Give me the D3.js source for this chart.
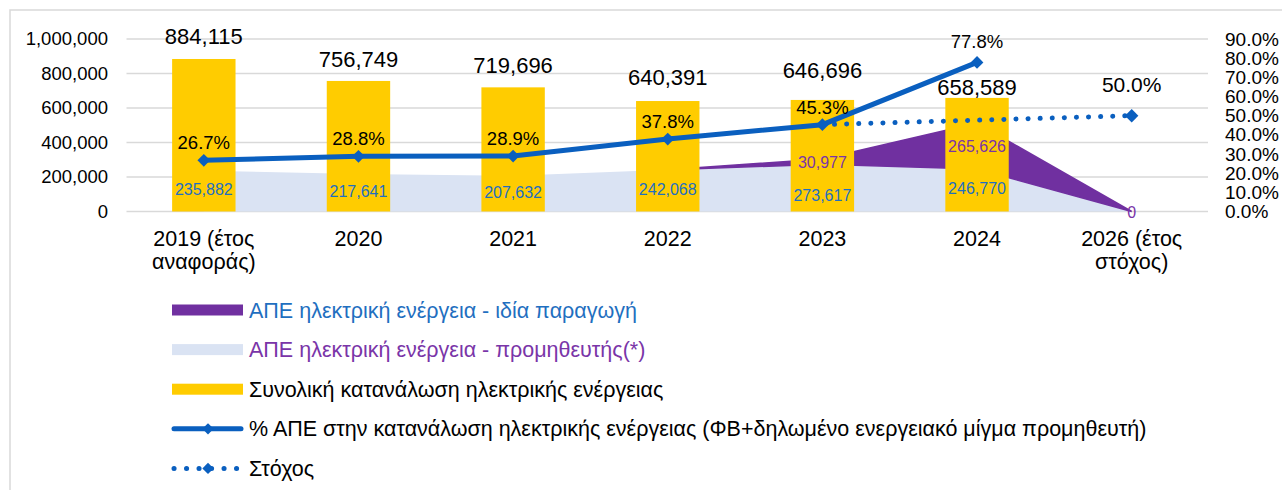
<!DOCTYPE html>
<html>
<head>
<meta charset="utf-8">
<script src="https://cdn.jsdelivr.net/npm/d3@7"></script>
<style>
  body { margin: 0; background: #fff; }
  svg { font-family: "Liberation Sans", Arial, sans-serif; display: block; }
</style>
</head>
<body>
<svg id="chart" width="1282" height="490"></svg>
<script>
// categories (second line of label after the break)
const categories = [["2019 (έτος", "αναφοράς)"], ["2020"], ["2021"], ["2022"], ["2023"], ["2024"], ["2026 (έτος", "στόχος)"]]
// total consumption (bars)
const totalConsumption = [884115, 756749, 719696, 640391, 646696, 658589, null]
// RES from supplier (light area)
const resSupplier = [235882, 217641, 207632, 242068, 273617, 246770, 0]
// RES own production (purple area, stacked on supplier)
const resOwn = [null, null, null, 0, 30977, 265626, 0]
// % RES in consumption
const resPercent = [26.7, 28.8, 28.9, 37.8, 45.3, 77.8, null]
// target
const targetPercent = [null, null, null, null, 45.3, null, 50.0]
const leftTicks = [0, 200000, 400000, 600000, 800000, 1000000]
const rightTicks = [0, 10, 20, 30, 40, 50, 60, 70, 80, 90]

const legendItems = [
  {label: "ΑΠΕ ηλεκτρική ενέργεια - ιδία παραγωγή", type: "rect", fill: "#7030a0", text: "#1f6fc0"},
  {label: "ΑΠΕ ηλεκτρική ενέργεια - προμηθευτής(*)", type: "rect", fill: "#dae3f3", text: "#7a35a8"},
  {label: "Συνολική κατανάλωση ηλεκτρικής ενέργειας", type: "rect", fill: "#ffcc00", text: "#000"},
  {label: "% ΑΠΕ στην κατανάλωση ηλεκτρικής ενέργειας (ΦΒ+δηλωμένο ενεργειακό μίγμα προμηθευτή)", type: "line", text: "#000"},
  {label: "Στόχος", type: "dots", text: "#000"}
]

const blue = "#0a5fbf"
const svg = d3.select("#chart")

// frame
svg.append("rect").attr("x", 10).attr("y", 10).attr("width", 1290).attr("height", 500)
  .attr("fill", "none").attr("stroke", "#d9d9d9").attr("stroke-width", 1.5)

const idx = d3.range(categories.length)
const x = d3.scalePoint().domain(idx).range([126.5, 1209]).padding(0.5)
const yL = d3.scaleLinear().domain([0, 1000000]).range([211.5, 39])
const yR = d3.scaleLinear().domain([0, 90]).range([211.5, 39])
const barW = x.step() * 0.41

// gridlines
svg.append("g").selectAll("line").data(leftTicks).join("line")
  .attr("x1", 126.5).attr("x2", 1208)
  .attr("y1", d => yL(d)).attr("y2", d => yL(d))
  .attr("stroke", "#d9d9d9").attr("stroke-width", 1.5)

// left axis
const axL = svg.append("g").attr("transform", "translate(118,0)")
  .call(d3.axisLeft(yL).tickValues(leftTicks).tickSize(0).tickPadding(10).tickFormat(d3.format(",")))
axL.select(".domain").remove()
axL.selectAll("text").attr("font-size", 18.5).attr("fill", "#000").attr("font-family", null)

// right axis
const axR = svg.append("g").attr("transform", "translate(1215,0)")
  .call(d3.axisRight(yR).tickValues(rightTicks).tickSize(0).tickPadding(10).tickFormat(d => d.toFixed(1) + "%"))
axR.select(".domain").remove()
axR.selectAll("text").attr("font-size", 19).attr("fill", "#000").attr("font-family", null)

// areas
const areaSup = d3.area().x(i => x(i)).y0(yL(0)).y1(i => yL(resSupplier[i]))
svg.append("path").datum(idx).attr("d", areaSup).attr("fill", "#dae3f3")

const ownIdx = idx.filter(i => resOwn[i] != null)
const areaOwn = d3.area().x(i => x(i))
  .y0(i => yL(resSupplier[i])).y1(i => yL(resSupplier[i] + resOwn[i]))
svg.append("path").datum(ownIdx).attr("d", areaOwn).attr("fill", "#7030a0")
  .attr("stroke", "#7030a0").attr("stroke-width", 1.5)

// bars
const barIdx = idx.filter(i => totalConsumption[i] != null)
svg.append("g").selectAll("rect").data(barIdx).join("rect")
  .attr("x", i => x(i) - barW / 2).attr("width", barW)
  .attr("y", i => yL(totalConsumption[i])).attr("height", i => yL(0) - yL(totalConsumption[i]))
  .attr("fill", "#ffcc00")

// bar labels (gap above bar top, nudged like excel did to dodge the line)
const barGap = [15, 14, 14, 16, 22, 3]
svg.append("g").selectAll("text").data(barIdx).join("text")
  .attr("x", i => x(i)).attr("y", i => yL(totalConsumption[i]) - barGap[i])
  .attr("text-anchor", "middle").attr("font-size", 22).attr("fill", "#000")
  .text(i => d3.format(",")(totalConsumption[i]))

// area labels
svg.append("g").selectAll("text").data(barIdx).join("text")
  .attr("x", i => x(i)).attr("y", i => yL(resSupplier[i] / 2) + (i === 4 ? 13 : 4))
  .attr("text-anchor", "middle").attr("font-size", 16).attr("fill", "#1f6fc0")
  .text(i => d3.format(",")(resSupplier[i]))

svg.append("g").selectAll("text").data(ownIdx.filter(i => resOwn[i] > 0 || i === 6)).join("text")
  .attr("x", i => x(i)).attr("y", i => yL(resSupplier[i] + resOwn[i] / 2) + 6)
  .attr("text-anchor", "middle").attr("font-size", 16).attr("fill", "#7a35a8")
  .text(i => d3.format(",")(resOwn[i]))

// diamond marker
const diamond = (g, cx, cy, s) => g.append("rect")
  .attr("x", -s / 2).attr("y", -s / 2).attr("width", s).attr("height", s)
  .attr("transform", `translate(${cx},${cy}) rotate(45)`).attr("fill", blue)

// target dotted line
const tIdx = idx.filter(i => targetPercent[i] != null)
svg.append("path").datum(tIdx)
  .attr("d", d3.line().x(i => x(i)).y(i => yR(targetPercent[i])))
  .attr("fill", "none").attr("stroke", blue).attr("stroke-width", 5)
  .attr("stroke-linecap", "round").attr("stroke-dasharray", "0.1 12")

// % line
const pIdx = idx.filter(i => resPercent[i] != null)
svg.append("path").datum(pIdx)
  .attr("d", d3.line().x(i => x(i)).y(i => yR(resPercent[i])))
  .attr("fill", "none").attr("stroke", blue).attr("stroke-width", 5)

const markers = svg.append("g")
pIdx.forEach(i => diamond(markers, x(i), yR(resPercent[i]), 9))
tIdx.filter(i => resPercent[i] == null).forEach(i => diamond(markers, x(i), yR(targetPercent[i]), 9.5))

// % labels
svg.append("g").selectAll("text").data(pIdx).join("text")
  .attr("x", i => x(i)).attr("y", i => yR(resPercent[i]) - (i === 5 ? 14 : 11))
  .attr("text-anchor", "middle").attr("font-size", 18.5).attr("fill", "#000")
  .text(i => resPercent[i].toFixed(1) + "%")

svg.append("g").selectAll("text").data(tIdx.filter(i => resPercent[i] == null)).join("text")
  .attr("x", i => x(i)).attr("y", i => yR(targetPercent[i]) - 24)
  .attr("text-anchor", "middle").attr("font-size", 21).attr("fill", "#000")
  .text(i => targetPercent[i].toFixed(1) + "%")

// category labels
const cat = svg.append("g").selectAll("text").data(idx).join("text")
  .attr("x", i => x(i)).attr("y", 246)
  .attr("text-anchor", "middle").attr("font-size", 21.5).attr("fill", "#000")
cat.selectAll("tspan").data(i => categories[i].map(t => ({t, cx: x(i)}))).join("tspan")
  .attr("x", d => d.cx).attr("dy", (d, j) => j ? 23 : 0).text(d => d.t)

// legend
const legend = svg.append("g")
legendItems.forEach((d, k) => {
  const cy = 310 + k * 39.6
  const g = legend.append("g")
  if (d.type === "rect") {
    g.append("rect").attr("x", 172).attr("y", cy - 5.5).attr("width", 71).attr("height", 11).attr("fill", d.fill)
  } else if (d.type === "line") {
    g.append("line").attr("x1", 174).attr("x2", 241).attr("y1", cy).attr("y2", cy)
      .attr("stroke", blue).attr("stroke-width", 5).attr("stroke-linecap", "round")
    diamond(g, 208, cy, 8)
  } else {
    g.append("line").attr("x1", 174).attr("x2", 241).attr("y1", cy).attr("y2", cy)
      .attr("stroke", blue).attr("stroke-width", 5).attr("stroke-linecap", "round").attr("stroke-dasharray", "0.1 12.4")
    diamond(g, 208, cy, 8)
  }
  g.append("text").attr("x", 249).attr("y", cy + 7.5).attr("font-size", 21.5).attr("fill", d.text).text(d.label)
})
</script>
</body>
</html>
